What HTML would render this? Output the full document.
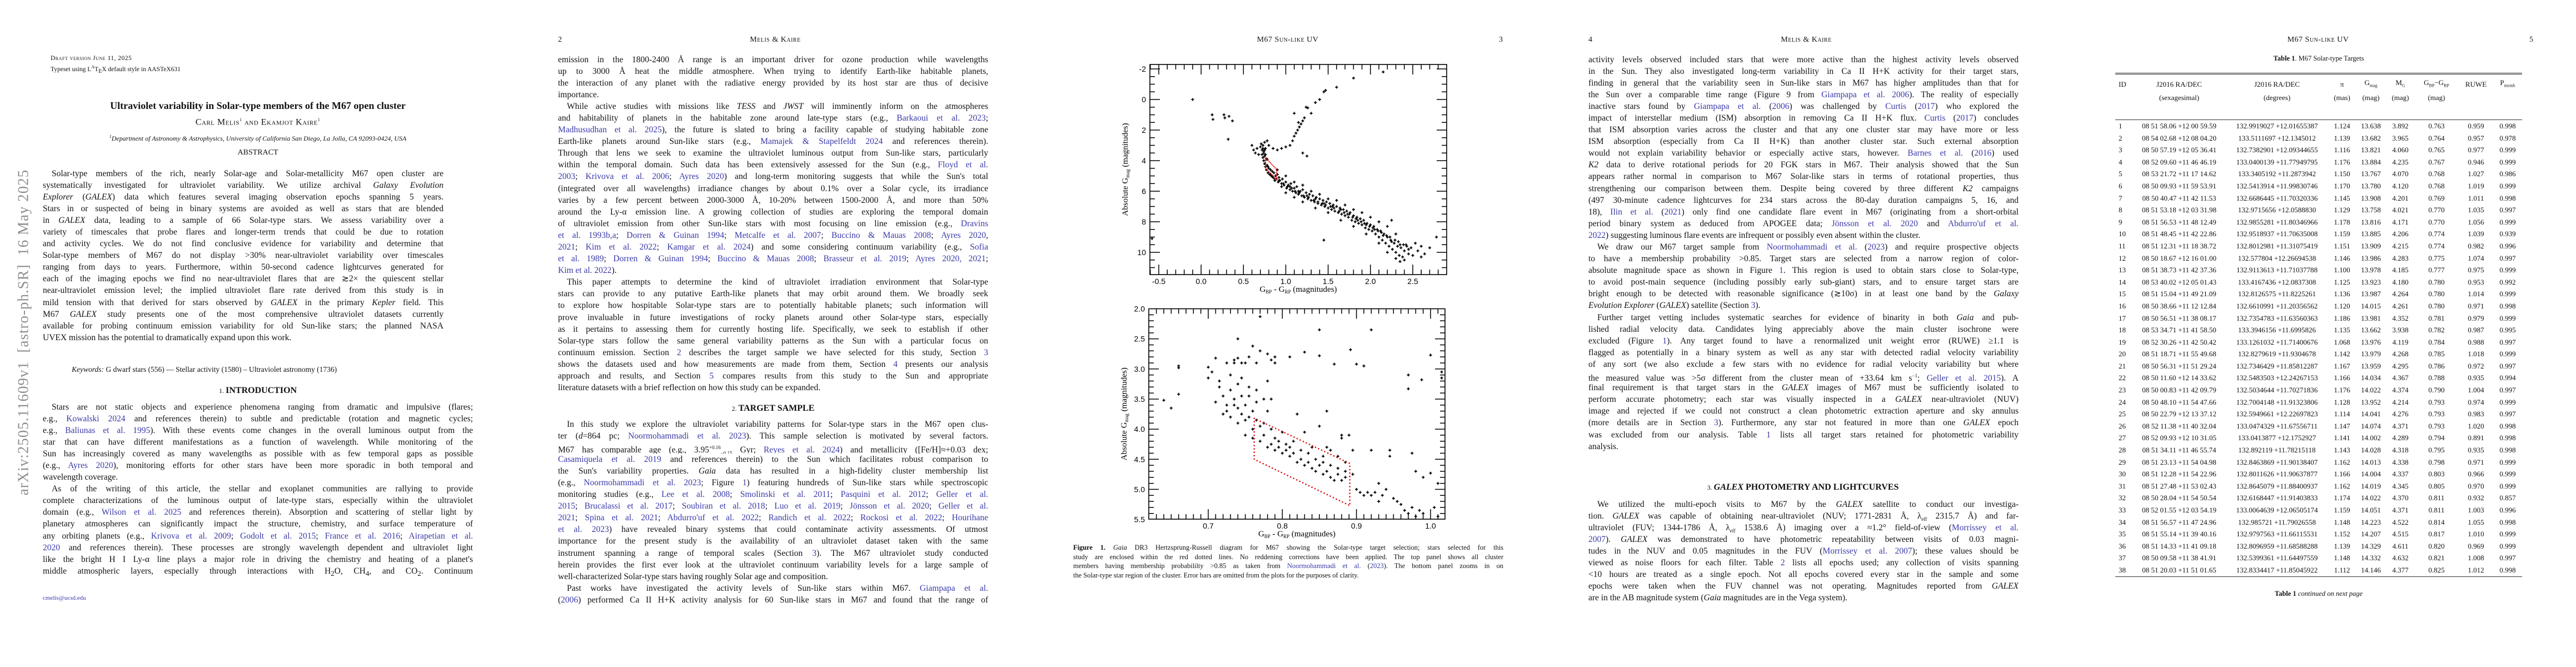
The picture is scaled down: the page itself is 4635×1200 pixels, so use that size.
<!DOCTYPE html>
<html><head><meta charset="utf-8">
<style>
html,body{margin:0;padding:0;background:#fff;}
body{width:4635px;height:1200px;position:relative;overflow:hidden;font-family:"Liberation Serif",serif;color:#111;}
.abs{position:absolute;}
.blk{position:absolute;font-size:15.5px;line-height:21.1px;}
.ln{height:21.1px;white-space:nowrap;text-align:justify;text-align-last:justify;overflow:hidden;}
.ln.last{text-align-last:left;}
.ind{padding-left:16px;}
.l{color:#3a3aa8;}
.hdr{position:absolute;font-size:14px;top:64px;white-space:nowrap;}
.sc{font-variant:small-caps;letter-spacing:0.5px;}
.sec{position:absolute;font-size:16px;font-weight:bold;white-space:nowrap;transform:translateX(-50%);}
.sec small{font-weight:normal;font-size:12px;}
table.t{position:absolute;left:3806px;top:138px;width:732px;border-collapse:collapse;table-layout:fixed;font-size:13px;}
table.t td{height:21.6px;padding:0;text-align:center;white-space:nowrap;line-height:21.6px;}
table.t td:first-child{text-align:left;padding-left:6px;}
.cap{position:absolute;left:1931px;width:774px;top:977px;font-size:12.4px;line-height:16.6px;}
.cap .ln{height:16.6px;}
</style></head>
<body>

<!-- arXiv stamp -->
<div class="abs" style="left:42px;top:598px;transform:translate(-50%,-50%) rotate(-90deg);font-size:27px;color:#8f8f8f;white-space:nowrap;letter-spacing:1px;">arXiv:2505.11609v1&nbsp;&nbsp;[astro-ph.SR]&nbsp;&nbsp;16 May 2025</div>

<!-- PAGE 1 -->
<div class="abs" style="left:91px;top:98px;font-size:11.5px;line-height:15px;white-space:nowrap;"><span class="sc">Draft version June 11, 2025</span><br>Typeset using L<sup style="font-size:8px">A</sup>T<sub style="font-size:10px">E</sub>X default style in AASTeX631</div>
<div class="abs" style="left:464px;top:180px;transform:translateX(-50%);font-size:18px;font-weight:bold;white-space:nowrap;">Ultraviolet variability in Solar-type members of the M67 open cluster</div>
<div class="abs sc" style="left:464px;top:211px;transform:translateX(-50%);font-size:16px;white-space:nowrap;">Carl Melis<sup style="font-size:8px">1</sup> and Ekamjot Kaire<sup style="font-size:8px">1</sup></div>
<div class="abs" style="left:464px;top:241px;transform:translateX(-50%);font-size:12px;font-style:italic;white-space:nowrap;"><sup style="font-size:8px">1</sup>Department of Astronomy &amp; Astrophysics, University of California San Diego, La Jolla, CA 92093-0424, USA</div>
<div class="abs" style="left:464px;top:267px;transform:translateX(-50%);font-size:14px;">ABSTRACT</div>
<div class="blk" style="left:77px;top:301.5px;width:721px;">
<div class="ln ind">Solar-type members of the rich, nearly Solar-age and Solar-metallicity M67 open cluster are</div>
<div class="ln">systematically investigated for ultraviolet variability. We utilize archival <i>Galaxy Evolution</i></div>
<div class="ln"><i>Explorer</i> (<i>GALEX</i>) data which features several imaging observation epochs spanning 5 years.</div>
<div class="ln">Stars in or suspected of being in binary systems are avoided as well as stars that are blended</div>
<div class="ln">in <i>GALEX</i> data, leading to a sample of 66 Solar-type stars. We assess variability over a</div>
<div class="ln">variety of timescales that probe flares and longer-term trends that could be due to rotation</div>
<div class="ln">and activity cycles. We do not find conclusive evidence for variability and determine that</div>
<div class="ln">Solar-type members of M67 do not display &gt;30% near-ultraviolet variability over timescales</div>
<div class="ln">ranging from days to years. Furthermore, within 50-second cadence lightcurves generated for</div>
<div class="ln">each of the imaging epochs we find no near-ultraviolet flares that are ≳2× the quiescent stellar</div>
<div class="ln">near-ultraviolet emission level; the implied ultraviolet flare rate derived from this study is in</div>
<div class="ln">mild tension with that derived for stars observed by <i>GALEX</i> in the primary <i>Kepler</i> field. This</div>
<div class="ln">M67 <i>GALEX</i> study presents one of the most comprehensive ultraviolet datasets currently</div>
<div class="ln">available for probing continuum emission variability for old Sun-like stars; the planned NASA</div>
<div class="ln last">UVEX mission has the potential to dramatically expand upon this work.</div>
</div>
<div class="abs" style="left:129px;top:657px;font-size:13.5px;white-space:nowrap;"><i>Keywords:</i> G dwarf stars (556) — Stellar activity (1580) – Ultraviolet astronomy (1736)</div>
<div class="sec" style="left:464px;top:694px;"><small>1. </small>INTRODUCTION</div>
<div class="blk" style="left:77px;top:721.5px;width:774px;">
<div class="ln ind">Stars are not static objects and experience phenomena ranging from dramatic and impulsive (flares;</div>
<div class="ln">e.g., <span class="l">Kowalski 2024</span> and references therein) to subtle and predictable (rotation and magnetic cycles;</div>
<div class="ln">e.g., <span class="l">Baliunas et al. 1995</span>). With these events come changes in the overall luminous output from the</div>
<div class="ln">star that can have different manifestations as a function of wavelength. While monitoring of the</div>
<div class="ln">Sun has increasingly covered as many wavelengths as possible with as few temporal gaps as possible</div>
<div class="ln">(e.g., <span class="l">Ayres 2020</span>), monitoring efforts for other stars have been more sporadic in both temporal and</div>
<div class="ln last">wavelength coverage.</div>
<div class="ln ind">As of the writing of this article, the stellar and exoplanet communities are rallying to provide</div>
<div class="ln">complete characterizations of the luminous output of late-type stars, especially within the ultraviolet</div>
<div class="ln">domain (e.g., <span class="l">Wilson et al. 2025</span> and references therein). Absorption and scattering of stellar light by</div>
<div class="ln">planetary atmospheres can significantly impact the structure, chemistry, and surface temperature of</div>
<div class="ln">any orbiting planets (e.g., <span class="l">Krivova et al. 2009</span>; <span class="l">Godolt et al. 2015</span>; <span class="l">France et al. 2016</span>; <span class="l">Airapetian et al.</span></div>
<div class="ln"><span class="l">2020</span> and references therein). These processes are strongly wavelength dependent and ultraviolet light</div>
<div class="ln">like the bright H I Ly-α line plays a major role in driving the chemistry and heating of a planet's</div>
<div class="ln">middle atmospheric layers, especially through interactions with H<sub>2</sub>O, CH<sub>4</sub>, and CO<sub>2</sub>. Continuum</div>
</div>
<div class="abs l" style="left:77px;top:1070px;font-size:11px;">cmelis@ucsd.edu</div>

<!-- PAGE 2 -->
<div class="hdr" style="left:1004px;">2</div>
<div class="hdr sc" style="left:1395px;transform:translateX(-50%);">Melis &amp; Kaire</div>
<div class="blk" style="left:1004px;top:96.5px;width:774px;">
<div class="ln">emission in the 1800-2400 Å range is an important driver for ozone production while wavelengths</div>
<div class="ln">up to 3000 Å heat the middle atmosphere. When trying to identify Earth-like habitable planets,</div>
<div class="ln">the interaction of any planet with the radiative energy provided by its host star are thus of decisive</div>
<div class="ln last">importance.</div>
<div class="ln ind">While active studies with missions like <i>TESS</i> and <i>JWST</i> will imminently inform on the atmospheres</div>
<div class="ln">and habitability of planets in the habitable zone around late-type stars (e.g., <span class="l">Barkaoui et al. 2023</span>;</div>
<div class="ln"><span class="l">Madhusudhan et al. 2025</span>), the future is slated to bring a facility capable of studying habitable zone</div>
<div class="ln">Earth-like planets around Sun-like stars (e.g., <span class="l">Mamajek &amp; Stapelfeldt 2024</span> and references therein).</div>
<div class="ln">Through that lens we seek to examine the ultraviolet luminous output from Sun-like stars, particularly</div>
<div class="ln">within the temporal domain. Such data has been extensively assessed for the Sun (e.g., <span class="l">Floyd et al.</span></div>
<div class="ln"><span class="l">2003</span>; <span class="l">Krivova et al. 2006</span>; <span class="l">Ayres 2020</span>) and long-term monitoring suggests that while the Sun's total</div>
<div class="ln">(integrated over all wavelengths) irradiance changes by about 0.1% over a Solar cycle, its irradiance</div>
<div class="ln">varies by a few percent between 2000-3000 Å, 10-20% between 1500-2000 Å, and more than 50%</div>
<div class="ln">around the Ly-α emission line. A growing collection of studies are exploring the temporal domain</div>
<div class="ln">of ultraviolet emission from other Sun-like stars with most focusing on line emission (e.g., <span class="l">Dravins</span></div>
<div class="ln"><span class="l">et al. 1993b,a</span>; <span class="l">Dorren &amp; Guinan 1994</span>; <span class="l">Metcalfe et al. 2007</span>; <span class="l">Buccino &amp; Mauas 2008</span>; <span class="l">Ayres 2020</span>,</div>
<div class="ln"><span class="l">2021</span>; <span class="l">Kim et al. 2022</span>; <span class="l">Kamgar et al. 2024</span>) and some considering continuum variability (e.g., <span class="l">Sofia</span></div>
<div class="ln"><span class="l">et al. 1989</span>; <span class="l">Dorren &amp; Guinan 1994</span>; <span class="l">Buccino &amp; Mauas 2008</span>; <span class="l">Brasseur et al. 2019</span>; <span class="l">Ayres 2020, 2021</span>;</div>
<div class="ln last"><span class="l">Kim et al. 2022</span>).</div>
<div class="ln ind">This paper attempts to determine the kind of ultraviolet irradiation environment that Solar-type</div>
<div class="ln">stars can provide to any putative Earth-like planets that may orbit around them. We broadly seek</div>
<div class="ln">to explore how hospitable Solar-type stars are to potentially habitable planets; such information will</div>
<div class="ln">prove invaluable in future investigations of rocky planets around other Solar-type stars, especially</div>
<div class="ln">as it pertains to assessing them for currently hosting life. Specifically, we seek to establish if other</div>
<div class="ln">Solar-type stars follow the same general variability patterns as the Sun with a particular focus on</div>
<div class="ln">continuum emission. Section <span class="l">2</span> describes the target sample we have selected for this study, Section <span class="l">3</span></div>
<div class="ln">shows the datasets used and how measurements are made from them, Section <span class="l">4</span> presents our analysis</div>
<div class="ln">approach and results, and Section <span class="l">5</span> compares results from this study to the Sun and appropriate</div>
<div class="ln last">literature datasets with a brief reflection on how this study can be expanded.</div>
</div>
<div class="sec" style="left:1391px;top:726px;"><small>2. </small>TARGET SAMPLE</div>
<div class="blk" style="left:1004px;top:752.5px;width:774px;">
<div class="ln ind">In this study we explore the ultraviolet variability patterns for Solar-type stars in the M67 open clus-</div>
<div class="ln">ter (<i>d</i>=864 pc; <span class="l">Noormohammadi et al. 2023</span>). This sample selection is motivated by several factors.</div>
<div class="ln">M67 has comparable age (e.g., 3.95<sup style="font-size:9px">+0.16</sup><sub style="font-size:9px">−0.15</sub> Gyr; <span class="l">Reyes et al. 2024</span>) and metallicity ([Fe/H]≈+0.03 dex;</div>
<div class="ln"><span class="l">Casamiquela et al. 2019</span> and references therein) to the Sun which facilitates robust comparison to</div>
<div class="ln">the Sun's variability properties. <i>Gaia</i> data has resulted in a high-fidelity cluster membership list</div>
<div class="ln">(e.g., <span class="l">Noormohammadi et al. 2023</span>; Figure <span class="l">1</span>) featuring hundreds of Sun-like stars while spectroscopic</div>
<div class="ln">monitoring studies (e.g., <span class="l">Lee et al. 2008</span>; <span class="l">Smolinski et al. 2011</span>; <span class="l">Pasquini et al. 2012</span>; <span class="l">Geller et al.</span></div>
<div class="ln"><span class="l">2015</span>; <span class="l">Brucalassi et al. 2017</span>; <span class="l">Soubiran et al. 2018</span>; <span class="l">Luo et al. 2019</span>; <span class="l">Jönsson et al. 2020</span>; <span class="l">Geller et al.</span></div>
<div class="ln"><span class="l">2021</span>; <span class="l">Spina et al. 2021</span>; <span class="l">Abdurro'uf et al. 2022</span>; <span class="l">Randich et al. 2022</span>; <span class="l">Rockosi et al. 2022</span>; <span class="l">Hourihane</span></div>
<div class="ln"><span class="l">et al. 2023</span>) have revealed binary systems that could contaminate activity assessments. Of utmost</div>
<div class="ln">importance for the present study is the availability of an ultraviolet dataset taken with the same</div>
<div class="ln">instrument spanning a range of temporal scales (Section <span class="l">3</span>). The M67 ultraviolet study conducted</div>
<div class="ln">herein provides the first ever look at the ultraviolet continuum variability levels for a large sample of</div>
<div class="ln last">well-characterized Solar-type stars having roughly Solar age and composition.</div>
<div class="ln ind">Past works have investigated the activity levels of Sun-like stars within M67. <span class="l">Giampapa et al.</span></div>
<div class="ln">(<span class="l">2006</span>) performed Ca II H+K activity analysis for 60 Sun-like stars in M67 and found that the range of</div>
</div>

<!-- PAGE 3 -->
<div class="hdr sc" style="left:2317px;transform:translateX(-50%);">M67 Sun-like UV</div>
<div class="hdr" style="left:2697px;">3</div>
<svg id="fig" class="abs" style="left:0;top:0;" width="4635" height="1200"></svg>
<div class="cap">
<div class="ln"><b>Figure 1.</b> <i>Gaia</i> DR3 Hertzsprung-Russell diagram for M67 showing the Solar-type target selection; stars selected for this</div>
<div class="ln">study are enclosed within the red dotted lines. No reddening corrections have been applied. The top panel shows all cluster</div>
<div class="ln">members having membership probabililty &gt;0.85 as taken from <span class="l">Noormohammadi et al.</span> (<span class="l">2023</span>). The bottom panel zooms in on</div>
<div class="ln last">the Solar-type star region of the cluster. Error bars are omitted from the plots for the purposes of clarity.</div>
</div>

<!-- PAGE 4 -->
<div class="hdr" style="left:2858px;">4</div>
<div class="hdr sc" style="left:3250px;transform:translateX(-50%);">Melis &amp; Kaire</div>
<div class="blk" style="left:2858px;top:96.5px;width:774px;">
<div class="ln">activity levels observed included stars that were more active than the highest activity levels observed</div>
<div class="ln">in the Sun. They also investigated long-term variability in Ca II H+K activity for their target stars,</div>
<div class="ln">finding in general that the variability seen in Sun-like stars in M67 has higher amplitudes than that for</div>
<div class="ln">the Sun over a comparable time range (Figure 9 from <span class="l">Giampapa et al. 2006</span>). The reality of especially</div>
<div class="ln">inactive stars found by <span class="l">Giampapa et al.</span> (<span class="l">2006</span>) was challenged by <span class="l">Curtis</span> (<span class="l">2017</span>) who explored the</div>
<div class="ln">impact of interstellar medium (ISM) absorption in removing Ca II H+K flux. <span class="l">Curtis</span> (<span class="l">2017</span>) concludes</div>
<div class="ln">that ISM absorption varies across the cluster and that any one cluster star may have more or less</div>
<div class="ln">ISM absorption (especially from Ca II H+K) than another cluster star. Such external absorption</div>
<div class="ln">would not explain variability behavior or especially active stars, however. <span class="l">Barnes et al.</span> (<span class="l">2016</span>) used</div>
<div class="ln"><i>K2</i> data to derive rotational periods for 20 FGK stars in M67. Their analysis showed that the Sun</div>
<div class="ln">appears rather normal in comparison to M67 Solar-like stars in terms of rotational properties, thus</div>
<div class="ln">strengthening our comparison between them. Despite being covered by three different <i>K2</i> campaigns</div>
<div class="ln">(497 30-minute cadence lightcurves for 234 stars across the 80-day duration campaigns 5, 16, and</div>
<div class="ln">18), <span class="l">Ilin et al.</span> (<span class="l">2021</span>) only find one candidate flare event in M67 (originating from a short-orbital</div>
<div class="ln">period binary system as deduced from APOGEE data; <span class="l">Jönsson et al. 2020</span> and <span class="l">Abdurro'uf et al.</span></div>
<div class="ln last"><span class="l">2022</span>) suggesting luminous flare events are infrequent or possibly even absent within the cluster.</div>
<div class="ln ind">We draw our M67 target sample from <span class="l">Noormohammadi et al.</span> (<span class="l">2023</span>) and require prospective objects</div>
<div class="ln">to have a membership probability &gt;0.85. Target stars are selected from a narrow region of color-</div>
<div class="ln">absolute magnitude space as shown in Figure <span class="l">1</span>. This region is used to obtain stars close to Solar-type,</div>
<div class="ln">to avoid post-main sequence (including possibly early sub-giant) stars, and to ensure target stars are</div>
<div class="ln">bright enough to be detected with reasonable significance (≳10σ) in at least one band by the <i>Galaxy</i></div>
<div class="ln last"><i>Evolution Explorer</i> (<i>GALEX</i>) satellite (Section <span class="l">3</span>).</div>
<div class="ln ind">Further target vetting includes systematic searches for evidence of binarity in both <i>Gaia</i> and pub-</div>
<div class="ln">lished radial velocity data. Candidates lying appreciably above the main cluster isochrone were</div>
<div class="ln">excluded (Figure <span class="l">1</span>). Any target found to have a renormalized unit weight error (RUWE) ≥1.1 is</div>
<div class="ln">flagged as potentially in a binary system as well as any star with detected radial velocity variability</div>
<div class="ln">of any sort (we also exclude a few stars with no evidence for radial velocity variability but where</div>
<div class="ln">the measured value was &gt;5σ different from the cluster mean of +33.64 km s<sup style="font-size:9px">−1</sup>; <span class="l">Geller et al. 2015</span>). A</div>
<div class="ln">final requirement is that target stars in the <i>GALEX</i> images of M67 must be sufficiently isolated to</div>
<div class="ln">perform accurate photometry; each star was visually inspected in a <i>GALEX</i> near-ultraviolet (NUV)</div>
<div class="ln">image and rejected if we could not construct a clean photometric extraction aperture and sky annulus</div>
<div class="ln">(more details are in Section <span class="l">3</span>). Furthermore, any star not featured in more than one <i>GALEX</i> epoch</div>
<div class="ln">was excluded from our analysis. Table <span class="l">1</span> lists all target stars retained for photometric variability</div>
<div class="ln last">analysis.</div>
</div>
<div class="sec" style="left:3244px;top:868px;"><small>3. </small><i>GALEX</i> PHOTOMETRY AND LIGHTCURVES</div>
<div class="blk" style="left:2858px;top:896.5px;width:774px;">
<div class="ln ind">We utilized the multi-epoch visits to M67 by the <i>GALEX</i> satellite to conduct our investiga-</div>
<div class="ln">tion. <i>GALEX</i> was capable of obtaining near-ultraviolet (NUV; 1771-2831 Å, λ<sub style="font-size:9px">eff</sub> 2315.7 Å) and far-</div>
<div class="ln">ultraviolet (FUV; 1344-1786 Å, λ<sub style="font-size:9px">eff</sub> 1538.6 Å) imaging over a ≈1.2° field-of-view (<span class="l">Morrissey et al.</span></div>
<div class="ln"><span class="l">2007</span>). <i>GALEX</i> was demonstrated to have photometric repeatability between visits of 0.03 magni-</div>
<div class="ln">tudes in the NUV and 0.05 magnitudes in the FUV (<span class="l">Morrissey et al. 2007</span>); these values should be</div>
<div class="ln">viewed as noise floors for each filter. Table <span class="l">2</span> lists all epochs used; any collection of visits spanning</div>
<div class="ln">&lt;10 hours are treated as a single epoch. Not all epochs covered every star in the sample and some</div>
<div class="ln">epochs were taken when the FUV channel was not operating. Magnitudes reported from <i>GALEX</i></div>
<div class="ln last">are in the AB magnitude system (<i>Gaia</i> magnitudes are in the Vega system).</div>
</div>

<!-- PAGE 5 -->
<div class="hdr sc" style="left:4171px;transform:translateX(-50%);">M67 Sun-like UV</div>
<div class="hdr" style="left:4551px;">5</div>
<div class="abs" style="left:4172px;top:98px;transform:translateX(-50%);font-size:12.5px;white-space:nowrap;"><b>Table 1</b>. M67 Solar-type Targets</div>
<div class="abs" style="left:3806px;top:131px;width:732px;height:1px;border-top:1px solid #333;border-bottom:1px solid #333;"></div>
<div class="abs" style="left:3806px;top:138px;width:732px;font-size:13px;">
<table class="t" style="left:0;top:0;position:relative;">
<colgroup><col style="width:32px"><col style="width:166px"><col style="width:186px"><col style="width:48px"><col style="width:56px"><col style="width:50px"><col style="width:80px"><col style="width:62px"><col style="width:52px"></colgroup>
<tr><td>ID</td><td>J2016 RA/DEC</td><td>J2016 RA/DEC</td><td>π</td><td>G<sub style="font-size:8px">mag</sub></td><td>M<sub style="font-size:8px">G</sub></td><td>G<sub style="font-size:8px">BP</sub>−G<sub style="font-size:8px">RP</sub></td><td>RUWE</td><td>P<sub style="font-size:8px">memb</sub></td></tr>
<tr><td></td><td>(sexagesimal)</td><td>(degrees)</td><td>(mas)</td><td>(mag)</td><td>(mag)</td><td>(mag)</td><td></td><td></td></tr>
</table></div>
<div class="abs" style="left:3806px;top:215px;width:732px;border-top:1px solid #333;"></div>
<table class="t" id="tbl" style="top:216px;">
<colgroup><col style="width:32px"><col style="width:166px"><col style="width:186px"><col style="width:48px"><col style="width:56px"><col style="width:50px"><col style="width:80px"><col style="width:62px"><col style="width:52px"></colgroup>
<tbody id="tb"></tbody></table>
<div class="abs" style="left:3806px;top:1037px;width:732px;border-top:1px solid #333;"></div>
<div class="abs" style="left:4172px;top:1061px;transform:translateX(-50%);font-size:12.5px;white-space:nowrap;"><b>Table 1</b> <i>continued on next page</i></div>

<script>
// ---------- Table 1 data ----------
const tableRows = [
"1|08 51 58.06 +12 00 59.59|132.9919027 +12.01655387|1.124|13.638|3.892|0.763|0.959|0.998",
"2|08 54 02.68 +12 08 04.20|133.5111697 +12.1345012|1.139|13.682|3.965|0.764|0.957|0.978",
"3|08 50 57.19 +12 05 36.41|132.7382901 +12.09344655|1.116|13.821|4.060|0.765|0.977|0.999",
"4|08 52 09.60 +11 46 46.19|133.0400139 +11.77949795|1.176|13.884|4.235|0.767|0.946|0.999",
"5|08 53 21.72 +11 17 14.62|133.3405192 +11.2873942|1.150|13.767|4.070|0.768|1.027|0.986",
"6|08 50 09.93 +11 59 53.91|132.5413914 +11.99830746|1.170|13.780|4.120|0.768|1.019|0.999",
"7|08 50 40.47 +11 42 11.53|132.6686445 +11.70320336|1.145|13.908|4.201|0.769|1.011|0.998",
"8|08 51 53.18 +12 03 31.98|132.9715656 +12.0588830|1.129|13.758|4.021|0.770|1.035|0.997",
"9|08 51 56.53 +11 48 12.49|132.9855281 +11.80346966|1.178|13.816|4.171|0.770|1.056|0.999",
"10|08 51 48.45 +11 42 22.86|132.9518937 +11.70635008|1.159|13.885|4.206|0.774|1.039|0.939",
"11|08 51 12.31 +11 18 38.72|132.8012981 +11.31075419|1.151|13.909|4.215|0.774|0.982|0.996",
"12|08 50 18.67 +12 16 01.00|132.577804 +12.26694538|1.146|13.986|4.283|0.775|1.074|0.997",
"13|08 51 38.73 +11 42 37.36|132.9113613 +11.71037788|1.100|13.978|4.185|0.777|0.975|0.999",
"14|08 53 40.02 +12 05 01.43|133.4167436 +12.0837308|1.125|13.923|4.180|0.780|0.953|0.992",
"15|08 51 15.04 +11 49 21.09|132.8126575 +11.8225261|1.136|13.987|4.264|0.780|1.014|0.999",
"16|08 50 38.66 +11 12 12.84|132.6610991 +11.20356562|1.120|14.015|4.261|0.780|0.971|0.998",
"17|08 50 56.51 +11 38 08.17|132.7354783 +11.63560363|1.186|13.981|4.352|0.781|0.979|0.999",
"18|08 53 34.71 +11 41 58.50|133.3946156 +11.6995826|1.135|13.662|3.938|0.782|0.987|0.995",
"19|08 52 30.26 +11 42 50.42|133.1261032 +11.71400676|1.068|13.976|4.119|0.784|0.988|0.997",
"20|08 51 18.71 +11 55 49.68|132.8279619 +11.9304678|1.142|13.979|4.268|0.785|1.018|0.999",
"21|08 50 56.31 +11 51 29.24|132.7346429 +11.85812287|1.167|13.959|4.295|0.786|0.972|0.997",
"22|08 50 11.60 +12 14 33.62|132.5483503 +12.24267153|1.166|14.034|4.367|0.788|0.935|0.994",
"23|08 50 00.83 +11 42 09.79|132.5034644 +11.70271836|1.176|14.022|4.374|0.790|1.004|0.997",
"24|08 50 48.10 +11 54 47.66|132.7004148 +11.91323806|1.128|13.952|4.214|0.793|0.974|0.999",
"25|08 50 22.79 +12 13 37.12|132.5949661 +12.22697823|1.114|14.041|4.276|0.793|0.983|0.997",
"26|08 52 11.38 +11 40 32.04|133.0474329 +11.67556711|1.147|14.074|4.371|0.793|1.020|0.998",
"27|08 52 09.93 +12 10 31.05|133.0413877 +12.1752927|1.141|14.002|4.289|0.794|0.891|0.998",
"28|08 51 34.11 +11 46 55.74|132.892119 +11.78215118|1.143|14.028|4.318|0.795|0.935|0.998",
"29|08 51 23.13 +11 54 04.98|132.8463869 +11.90138407|1.162|14.013|4.338|0.798|0.971|0.999",
"30|08 51 12.28 +11 54 22.96|132.8011626 +11.90637877|1.166|14.004|4.337|0.803|0.966|0.999",
"31|08 51 27.48 +11 53 02.43|132.8645079 +11.88400937|1.162|14.019|4.345|0.805|0.970|0.999",
"32|08 50 28.04 +11 54 50.54|132.6168447 +11.91403833|1.174|14.022|4.370|0.811|0.932|0.857",
"33|08 52 01.55 +12 03 54.19|133.0064639 +12.06505174|1.159|14.051|4.371|0.811|1.003|0.996",
"34|08 51 56.57 +11 47 24.96|132.985721 +11.79026558|1.148|14.223|4.522|0.814|1.055|0.998",
"35|08 51 55.14 +11 39 40.16|132.9797563 +11.66115531|1.152|14.207|4.515|0.817|1.010|0.999",
"36|08 51 14.33 +11 41 09.18|132.8096959 +11.68588288|1.139|14.329|4.611|0.820|0.969|0.999",
"37|08 50 09.58 +11 38 41.91|132.5399361 +11.64497559|1.148|14.332|4.632|0.821|1.008|0.997",
"38|08 51 20.03 +11 51 01.65|132.8334417 +11.85045922|1.112|14.146|4.377|0.825|1.012|0.998"
];
const tb = document.getElementById('tb');
tableRows.forEach(function(r){
  const tr = document.createElement('tr');
  
  
  r.split('|').forEach(function(c){
    const td = document.createElement('td');
    td.textContent = c;
    tr.appendChild(td);
  });
  tb.appendChild(tr);
});
</script>

<script>
// ---------- Figure 1 data ----------
const topColor = [0.60,0.62,0.64,0.66,0.68,0.70,0.71,0.72,0.72,0.73,0.73,0.74,0.74,0.75,0.75,0.75,0.76,0.76,0.77,0.77,0.78,0.78,0.79,0.80,0.80,0.81,0.82,0.83,0.84,0.85,0.86,0.87,0.88,0.89,0.90,0.91,0.92,0.93,0.95,0.96,0.98,1.00,1.01,1.03,1.05,1.06,1.08,1.10,1.12,1.13,1.15,1.17,1.19,1.20,1.22,1.24,1.26,1.28,1.30,1.32,1.34,1.36,1.38,1.40,1.42,1.44,1.46,1.48,1.50,1.52,1.54,1.56,1.58,1.60,1.62,1.64,1.66,1.68,1.70,1.72,1.74,1.76,1.78,1.80,1.82,1.84,1.86,1.88,1.90,1.92,1.94,1.96,1.98,2.00,2.02,2.04,2.06,2.08,2.10,2.12,2.14,2.16,2.18,2.20,2.22,2.24,2.26,2.28,2.30,2.32,2.34,2.36,2.38,2.40,2.42,2.45,2.48,2.50,2.53,2.56,2.60,2.64,2.70,
0.9,1.0,1.1,1.2,1.3,1.4,1.5,1.6,1.7,1.8,1.9,2.0,2.1,2.2,2.25,2.3,
1.0,1.1,1.2,1.35,1.5,1.65,1.8,1.95,2.1,2.2,2.3,2.4,2.35,
0.95,1.05,1.15,1.25,1.35,1.45,1.55,1.65,1.75,1.85,1.95,2.05,2.15,2.25,2.35,2.45,
0.74,0.73,0.75,0.76,0.78,0.79,0.82,0.84,0.87,0.92,0.97,1.02,1.07,1.11,1.16,1.21,1.27,1.33,1.38,1.43,1.47,1.53,1.57,1.63,1.69,1.73,1.79,1.83,1.89,1.93,1.99,2.03,2.09,2.13,2.19,2.23,2.29,2.33,2.39,2.43,
0.85,0.9,0.95,1.0,1.05,1.08,1.1,1.12,1.14,1.16,1.18,1.2,1.22,1.15,1.1,1.24,1.26,1.3,1.35,1.4,1.45,1.47,1.6,1.8,2.15,1.25,1.2,
-0.1,0.13,0.14,0.27,0.28,0.33,0.37,0.32,
1.45,2.7,2.78,-0.58,2.6];
const topMag = [3.0,3.3,3.5,3.2,3.6,3.1,2.9,3.3,3.6,3.0,3.8,3.4,4.0,2.8,3.7,4.2,3.2,4.4,3.9,4.6,2.7,4.3,4.8,4.5,3.0,4.9,4.6,5.0,4.7,5.1,4.8,5.3,5.0,5.2,4.9,5.4,5.1,5.3,5.5,5.2,5.6,5.4,5.8,5.6,5.9,5.5,6.0,5.8,6.1,5.7,6.2,6.0,6.3,5.9,6.4,6.1,6.5,6.2,6.6,6.3,6.7,6.4,6.8,6.5,6.9,6.6,7.0,6.7,7.1,6.8,7.2,6.9,7.3,7.0,7.4,7.1,7.5,7.2,7.6,7.3,7.7,7.4,7.9,7.6,8.0,7.7,8.1,7.8,8.2,7.9,8.4,8.1,8.5,8.2,8.6,8.3,8.8,8.5,9.0,8.6,9.2,8.8,9.4,9.0,9.6,9.2,9.8,9.4,10.0,9.6,10.2,9.7,10.3,9.9,9.5,10.1,9.7,10.2,9.4,9.9,9.6,10.1,9.7,
4.6,5.0,5.4,5.6,6.0,6.2,6.5,6.6,6.9,7.2,7.4,7.7,8.0,8.3,7.9,8.8,
6.1,6.4,6.7,7.1,7.4,7.9,8.3,8.8,9.4,10.0,10.4,10.5,10.6,
5.7,5.7,6.0,6.3,6.5,6.8,7.0,7.2,7.5,7.9,8.2,8.5,8.9,9.3,9.5,9.8,
3.5,3.2,3.3,3.6,3.9,4.4,4.9,5.0,5.2,5.3,5.5,5.7,5.8,6.0,6.1,6.3,6.4,6.6,6.7,6.8,6.9,7.0,7.1,7.3,7.4,7.5,7.7,7.8,8.0,8.1,8.3,8.4,8.6,8.7,8.9,9.0,9.2,9.3,9.5,9.6,
3.2,3.3,3.2,3.1,3.0,2.7,2.4,2.2,2.0,1.8,1.6,1.4,1.2,1.5,0.9,0.5,0.55,0.9,0.2,0.0,-0.5,-0.6,-0.8,-1.4,-1.8,3.7,3.5,
0.0,1.0,1.3,1.0,1.2,1.1,1.4,2.6,
9.2,9.7,9.0,9.1,10.3];
const zoomColor = [0.65,0.66,0.66,0.66,0.70,0.70,0.705,0.71,0.71,0.715,0.72,0.72,0.725,0.725,0.73,0.73,0.735,0.735,0.74,0.74,0.74,0.745,0.745,0.75,0.75,0.75,0.755,0.755,0.76,0.76,0.76,0.765,0.765,0.77,0.77,0.77,0.775,0.78,0.78,0.78,0.785,0.785,0.79,0.79,0.795,0.80,0.80,0.805,0.81,0.81,0.815,0.82,0.82,0.825,0.83,0.83,0.835,0.84,0.84,0.845,0.85,0.85,0.855,0.86,0.86,0.865,0.87,0.87,0.875,0.88,0.88,0.885,0.89,0.892,0.895,0.90,0.90,0.905,0.91,0.91,0.915,0.92,0.92,0.925,0.93,0.93,0.935,0.94,0.945,0.945,0.95,0.955,0.96,0.965,0.97,0.97,0.97,0.975,0.975,0.98,0.98,0.985,0.988,0.99,0.99,0.995,1.0,1.0,1.005,1.01,1.01,1.015,1.015,1.02,0.64,0.85,0.92,0.77,0.74,0.76,0.735,0.715,0.73,0.745,0.755,0.765,0.775,0.725,0.735,0.745,0.755,0.765,0.775,0.785,0.79,0.795,0.805,0.81,0.815,0.825,0.835,0.845,0.855,0.865,0.875,0.885,0.895,0.855,0.865,0.875,0.885,0.86,0.85,0.88,0.83,0.82,0.78,0.785,0.79,0.74,0.75];
const zoomMag = [3.65,3.42,2.95,2.98,3.15,2.97,3.05,3.55,2.82,3.3,3.45,3.75,2.9,3.6,3.35,3.8,2.85,3.5,3.25,3.65,3.9,2.9,3.45,3.6,3.85,4.1,2.8,3.3,3.7,4.0,4.15,2.9,3.55,3.95,4.2,2.7,4.1,4.3,3.7,3.2,4.25,3.5,4.35,2.8,4.3,4.4,4.05,4.35,4.45,2.8,4.4,3.75,4.55,4.5,4.6,2.72,4.55,4.65,4.3,4.7,4.6,2.78,4.75,4.7,4.3,4.8,4.85,2.92,4.75,4.85,4.15,4.8,4.1,2.68,4.35,5.0,2.92,5.05,2.95,5.1,5.05,4.35,5.1,5.05,4.9,5.2,5.1,5.0,4.35,4.45,5.15,5.2,5.25,5.35,3.1,3.33,5.4,4.4,5.3,5.45,4.7,5.35,3.18,5.4,4.8,5.5,4.73,2.77,5.3,5.45,4.9,3.15,3.05,4.78,3.52,2.35,2.35,2.13,2.5,2.62,2.9,3.2,3.1,3.15,3.45,3.35,3.5,3.7,3.6,3.75,3.8,3.85,3.9,4.0,4.15,4.2,4.25,4.3,4.2,4.35,4.4,4.5,4.55,4.6,4.65,4.7,4.75,4.45,4.35,4.45,4.55,3.7,3.95,4.1,4.05,3.75,2.75,2.85,2.9,2.82,2.9];
const boxColor = [0.762,0.891,0.891,0.762,0.762];
const boxMag = [3.82,4.57,5.27,4.5,3.82];
const topXTicks = [-0.5,0.0,0.5,1.0,1.5,2.0,2.5];
const topXLabels = ["-0.5","0.0","0.5","1.0","1.5","2.0","2.5"];
const topYTicks = [-2,0,2,4,6,8,10];
const topYLabels = ["-2","0","2","4","6","8","10"];
const botXTicks = [0.7,0.8,0.9,1.0];
const botXLabels = ["0.7","0.8","0.9","1.0"];
const botYTicks = [2.0,2.5,3.0,3.5,4.0,4.5,5.0,5.5];
const botYLabels = ["2.0","2.5","3.0","3.5","4.0","4.5","5.0","5.5"];

const NS = 'http://www.w3.org/2000/svg';
const svg = document.getElementById('fig');
function mk(tag, attrs, parent){
  const e = document.createElementNS(NS, tag);
  for (const k in attrs) e.setAttribute(k, attrs[k]);
  (parent || svg).appendChild(e);
  return e;
}
function panel(cfg, name){
  const g = mk('g', {});
  
  
  const X = v => cfg.x0 + (v - cfg.xv0) * cfg.xs;
  const Y = v => cfg.y0 + (v - cfg.yv0) * cfg.ys;
  const L = cfg.L, R = cfg.R, T = cfg.T, B = cfg.B;
  const fr = mk('rect', {x:L, y:T, width:R-L, height:B-T, fill:'none', stroke:'#000', 'stroke-width':1.6}, g);
  
  
  // ticks
  let d = '';
  for (let i = Math.ceil(cfg.xmin/cfg.xminor - 1e-6); i*cfg.xminor <= cfg.xmax + 1e-9; i++){
    const v = i*cfg.xminor; const px = X(v);
    if (px < L+0.5 || px > R-0.5) continue;
    const major = Math.abs(v/cfg.xmajor - Math.round(v/cfg.xmajor)) < 1e-6;
    const len = major ? 18 : 9;
    d += `M${px} ${B}v${-len}M${px} ${T}v${len}`;
  }
  for (let i = Math.ceil(cfg.ymin/cfg.yminor - 1e-6); i*cfg.yminor <= cfg.ymax + 1e-9; i++){
    const v = i*cfg.yminor; const py = Y(v);
    if (py < T+0.5 || py > B-0.5) continue;
    const major = Math.abs(v/cfg.ymajor - Math.round(v/cfg.ymajor)) < 1e-6;
    const len = major ? 18 : 9;
    d += `M${L} ${py}h${len}M${R} ${py}h${-len}`;
  }
  const tk = mk('path', {d:d, stroke:'#000', 'stroke-width':1.5, fill:'none'}, g);
  
  
  cfg.xt.forEach((v,i) => {
    const t = mk('text', {x:X(v), y:B+17, 'text-anchor':'middle', 'font-family':'Liberation Sans, sans-serif', 'font-size':14}, g);
    t.textContent = cfg.xl[i];
    
    
  });
  cfg.yt.forEach((v,i) => {
    const t = mk('text', {x:L-7, y:Y(v)+5, 'text-anchor':'end', 'font-family':'Liberation Sans, sans-serif', 'font-size':14}, g);
    t.textContent = cfg.yl[i];
    
    
  });
  const xt = mk('text', {x:(L+R)/2, y:B+31, 'text-anchor':'middle', 'font-family':'Liberation Serif, serif', 'font-size':15}, g);
  xt.innerHTML = 'G<tspan font-size="9" dy="3">BP</tspan><tspan dy="-3"> - G</tspan><tspan font-size="9" dy="3">RP</tspan><tspan dy="-3"> (magnitudes)</tspan>';
  
  
  const yc = (T+B)/2;
  const yt = mk('text', {x:0, y:0, 'text-anchor':'middle', 'font-family':'Liberation Serif, serif', 'font-size':15, transform:`translate(${cfg.ytx},${yc}) rotate(-90)`}, g);
  yt.innerHTML = 'Absolute G<tspan font-size="9" dy="3">mag</tspan><tspan dy="-3"> (magnitudes)</tspan>';
  
  
  // points
  let pd = '';
  cfg.px.forEach((v,i) => {
    const a = X(v), b = Y(cfg.py[i]);
    if (a < L || a > R || b < T || b > B) return;
    pd += `M${(a-2.5).toFixed(1)} ${b.toFixed(1)}h5M${a.toFixed(1)} ${(b-2.5).toFixed(1)}v5`;
  });
  const pts = mk('path', {d:pd, stroke:'#000', 'stroke-width':1.7, fill:'none'}, g);
  
  
  // selection box
  const bp = boxColor.map((v,i) => X(v).toFixed(1)+','+Y(boxMag[i]).toFixed(1)).join(' ');
  const poly = mk('polyline', {points:bp, fill:'none', stroke:'#e01010', 'stroke-width':cfg.bw, 'stroke-dasharray':cfg.dash, 'stroke-linecap':'round'}, g);
  
  
}
panel({x0:2085, xv0:-0.5, xs:152.33, y0:124, yv0:-2, ys:27.5, L:2069, R:2603, T:116, B:494,
  xmin:-0.6, xmax:2.9, xminor:0.1, xmajor:0.5, ymin:-2.5, ymax:11.5, yminor:0.5, ymajor:2,
  xt:topXTicks, xl:topXLabels, yt:topYTicks, yl:topYLabels, ytx:2029, px:topColor, py:topMag, bw:2.2, dash:'0.1 3'}, 'top-panel-full-cluster');
panel({x0:2174, xv0:0.7, xs:1333.3, y0:555.5, yv0:2, ys:108.3, L:2067, R:2600, T:555.5, B:934,
  xmin:0.62, xmax:1.02, xminor:0.01, xmajor:0.1, ymin:2.0, ymax:5.5, yminor:0.1, ymajor:0.5,
  xt:botXTicks, xl:botXLabels, yt:botYTicks, yl:botYLabels, ytx:2027, px:zoomColor, py:zoomMag, bw:2.6, dash:'0.1 6'}, 'bottom-panel-solar-type-zoom');
</script>
</body></html>
